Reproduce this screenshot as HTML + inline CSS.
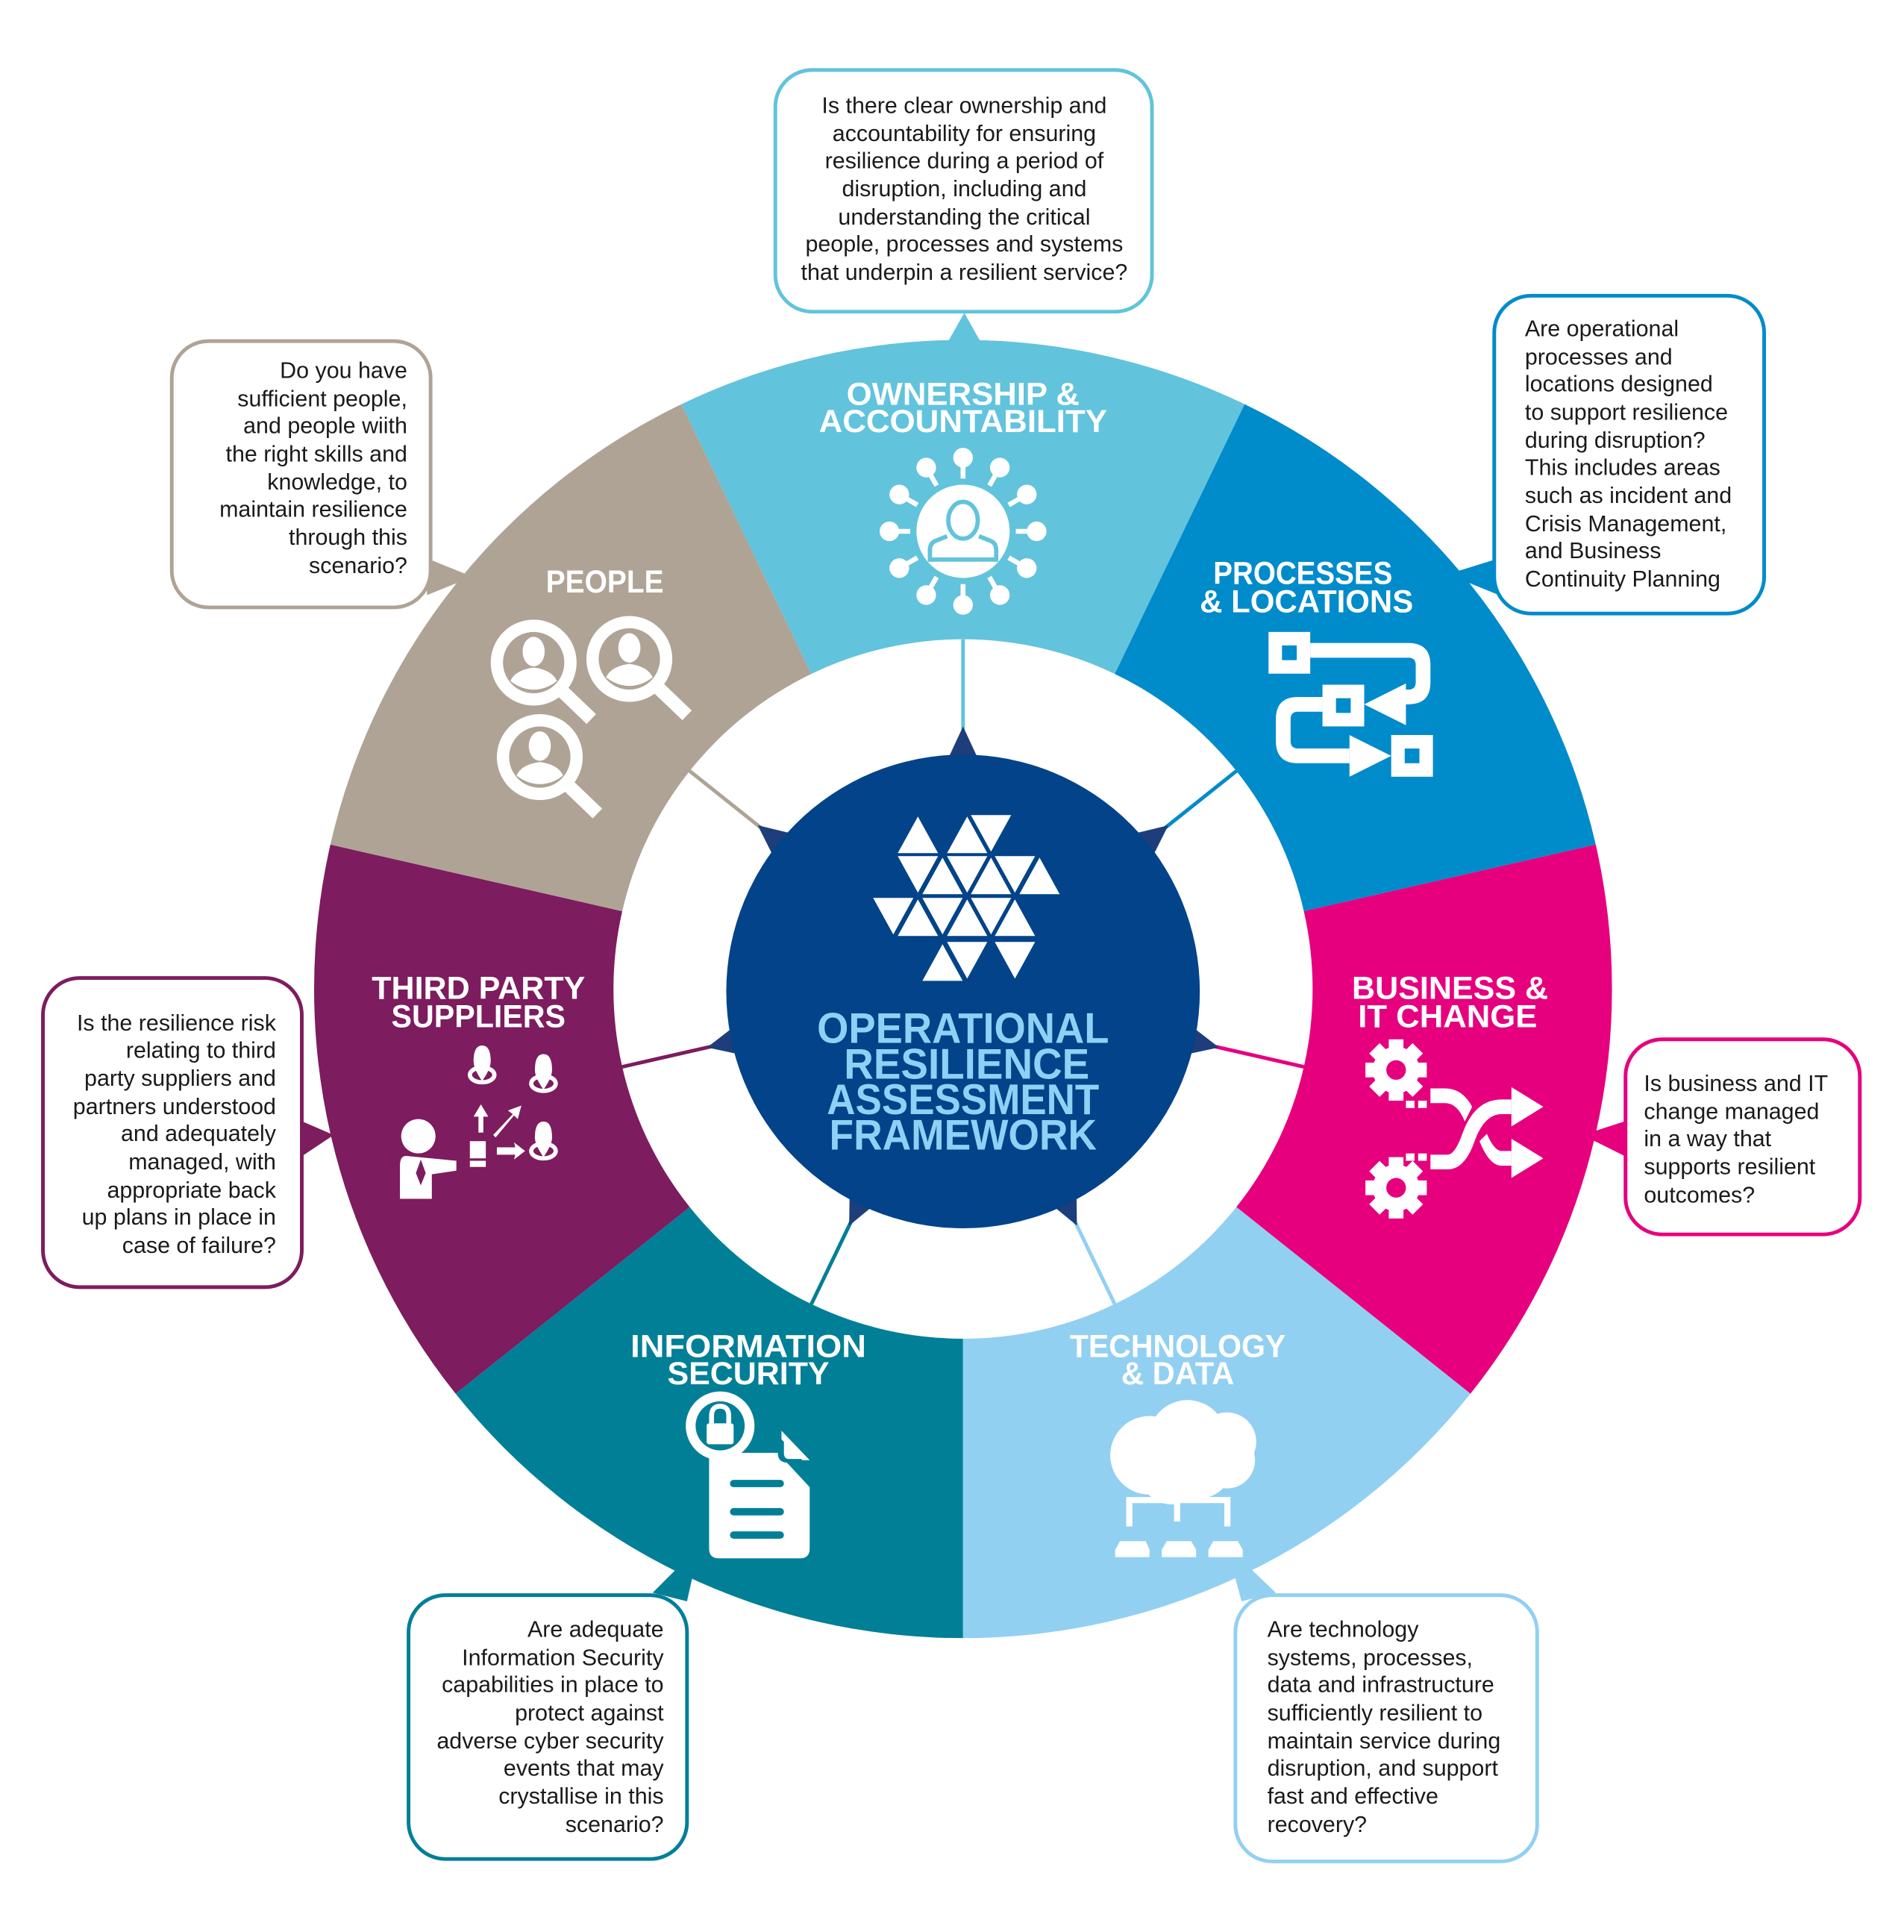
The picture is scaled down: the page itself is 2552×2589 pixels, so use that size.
<!DOCTYPE html>
<html><head><meta charset="utf-8"><style>
html,body{margin:0;padding:0;background:#fff;}
svg{display:block;}
text{font-family:"Liberation Sans",sans-serif;}
.q{font-size:18.5px;fill:#1a1a1a;}
.lab{font-size:26px;font-weight:bold;fill:#fff;}
.ctr{font-size:35px;font-weight:bold;fill:#8fd0f5;}
</style></head><body>
<svg width="2552" height="2589" viewBox="0 0 1552 1574.5" preserveAspectRatio="none" xmlns="http://www.w3.org/2000/svg">
<rect width="1552" height="1575" fill="#fff"/>

<!-- pointers (segment colored) -->
<polygon points="773,278 799,278 786,255" fill="#62c3dc"/>
<polygon points="1180,468 1222,455 1222,485" fill="#008bcb"/>
<polygon points="1290,925 1330,912 1330,945" fill="#e6007e"/>
<polygon points="1000,1260 1040,1298 1012,1305" fill="#92d0f2"/>
<polygon points="570,1260 532,1298 560,1305" fill="#007f97"/>
<polygon points="272,925 242,912 242,945" fill="#7d1c5e"/>
<polygon points="385,470 348,455 348,485" fill="#afa396"/>

<!-- segments -->
<path d="M785,1335 A529,529 0 0 1 371.4,1135.8 L562.2,983.7 A285,285 0 0 0 785,1091 Z" fill="#007f97"/>
<path d="M371.4,1135.8 A529,529 0 0 1 269.3,688.3 L507.2,742.6 A285,285 0 0 0 562.2,983.7 Z" fill="#7d1c5e"/>
<path d="M269.3,688.3 A529,529 0 0 1 555.5,329.4 L661.3,549.2 A285,285 0 0 0 507.2,742.6 Z" fill="#afa396"/>
<path d="M555.5,329.4 A529,529 0 0 1 1014.5,329.4 L908.7,549.2 A285,285 0 0 0 661.3,549.2 Z" fill="#62c3dc"/>
<path d="M1014.5,329.4 A529,529 0 0 1 1300.7,688.3 L1062.8,742.6 A285,285 0 0 0 908.7,549.2 Z" fill="#008bcb"/>
<path d="M1300.7,688.3 A529,529 0 0 1 1198.6,1135.8 L1007.8,983.7 A285,285 0 0 0 1062.8,742.6 Z" fill="#e6007e"/>
<path d="M1198.6,1135.8 A529,529 0 0 1 785,1335 L785,1091 A285,285 0 0 0 1007.8,983.7 Z" fill="#92d0f2"/>

<!-- connectors -->
<g stroke-width="3">
<g transform="rotate(0 785 806)"><line x1="785" y1="521" x2="785" y2="600" stroke="#62c3dc"/><polygon points="772,620 798,620 785,592" fill="#1d3e7a"/></g>
<g transform="rotate(51.43 785 806)"><line x1="785" y1="521" x2="785" y2="600" stroke="#008bcb"/><polygon points="772,620 798,620 785,592" fill="#1d3e7a"/></g>
<g transform="rotate(102.86 785 806)"><line x1="785" y1="521" x2="785" y2="600" stroke="#e6007e"/><polygon points="772,620 798,620 785,592" fill="#1d3e7a"/></g>
<g transform="rotate(154.29 785 806)"><line x1="785" y1="521" x2="785" y2="600" stroke="#92d0f2"/><polygon points="772,620 798,620 785,592" fill="#1d3e7a"/></g>
<g transform="rotate(205.71 785 806)"><line x1="785" y1="521" x2="785" y2="600" stroke="#007f97"/><polygon points="772,620 798,620 785,592" fill="#1d3e7a"/></g>
<g transform="rotate(257.14 785 806)"><line x1="785" y1="521" x2="785" y2="600" stroke="#7d1c5e"/><polygon points="772,620 798,620 785,592" fill="#1d3e7a"/></g>
<g transform="rotate(308.57 785 806)"><line x1="785" y1="521" x2="785" y2="600" stroke="#afa396"/><polygon points="772,620 798,620 785,592" fill="#1d3e7a"/></g>
</g>

<!-- center -->
<circle cx="785" cy="808" r="193" fill="#024389"/>
<g transform="scale(0.6083)" fill="#fff">
<!-- row1 y1092-1143 -->
<polygon points="1203,1143 1257,1143 1230,1094"/>
<polygon points="1269,1143 1323,1143 1296,1094"/>
<polygon points="1301,1092 1355,1092 1328,1141"/>
<!-- row2 -->
<polygon points="1203,1147 1257,1147 1230,1196"/>
<polygon points="1236,1198 1290,1198 1263,1149"/>
<polygon points="1269,1147 1323,1147 1296,1196"/>
<polygon points="1301,1198 1355,1198 1328,1149"/>
<polygon points="1333,1147 1387,1147 1360,1196"/>
<polygon points="1366,1198 1420,1198 1393,1149"/>
<!-- row3 -->
<polygon points="1170,1203 1224,1203 1197,1252"/>
<polygon points="1203,1254 1257,1254 1230,1205"/>
<polygon points="1236,1203 1290,1203 1263,1252"/>
<polygon points="1269,1254 1323,1254 1296,1205"/>
<polygon points="1301,1203 1355,1203 1328,1252"/>
<polygon points="1333,1254 1387,1254 1360,1205"/>
<!-- row4 -->
<polygon points="1236,1314 1290,1314 1263,1265"/>
<polygon points="1269,1262 1323,1262 1296,1311"/>
<polygon points="1333,1262 1387,1262 1360,1311"/>
</g>
<text class="ctr" x="785" y="850" text-anchor="middle" textLength="238" lengthAdjust="spacingAndGlyphs">OPERATIONAL</text>
<text class="ctr" x="788" y="879" text-anchor="middle" textLength="200" lengthAdjust="spacingAndGlyphs">RESILIENCE</text>
<text class="ctr" x="785" y="908" text-anchor="middle" textLength="222" lengthAdjust="spacingAndGlyphs">ASSESSMENT</text>
<text class="ctr" x="785" y="937" text-anchor="middle" textLength="218" lengthAdjust="spacingAndGlyphs">FRAMEWORK</text>

<!-- segment labels -->
<text class="lab" x="785" y="330" text-anchor="middle" textLength="190" lengthAdjust="spacingAndGlyphs">OWNERSHIP &amp;</text>
<text class="lab" x="785" y="352" text-anchor="middle" textLength="235" lengthAdjust="spacingAndGlyphs">ACCOUNTABILITY</text>
<text class="lab" x="1062" y="476" text-anchor="middle" textLength="146" lengthAdjust="spacingAndGlyphs">PROCESSES</text>
<text class="lab" x="1065" y="499" text-anchor="middle" textLength="174" lengthAdjust="spacingAndGlyphs">&amp; LOCATIONS</text>
<text class="lab" x="1182" y="814" text-anchor="middle" textLength="160" lengthAdjust="spacingAndGlyphs">BUSINESS &amp;</text>
<text class="lab" x="1180" y="837" text-anchor="middle" textLength="146" lengthAdjust="spacingAndGlyphs">IT CHANGE</text>
<text class="lab" x="960" y="1106" text-anchor="middle" textLength="176" lengthAdjust="spacingAndGlyphs">TECHNOLOGY</text>
<text class="lab" x="960" y="1128" text-anchor="middle" textLength="92" lengthAdjust="spacingAndGlyphs">&amp; DATA</text>
<text class="lab" x="610" y="1106" text-anchor="middle" textLength="192" lengthAdjust="spacingAndGlyphs">INFORMATION</text>
<text class="lab" x="610" y="1128" text-anchor="middle" textLength="132" lengthAdjust="spacingAndGlyphs">SECURITY</text>
<text class="lab" x="390" y="814" text-anchor="middle" textLength="174" lengthAdjust="spacingAndGlyphs">THIRD PARTY</text>
<text class="lab" x="390" y="837" text-anchor="middle" textLength="142" lengthAdjust="spacingAndGlyphs">SUPPLIERS</text>
<text class="lab" x="493" y="483" text-anchor="middle" textLength="96" lengthAdjust="spacingAndGlyphs">PEOPLE</text>

<!-- ownership icon -->
<g fill="#fff" stroke="#fff">
<circle cx="785" cy="433" r="38" stroke="none"/>
<g stroke-width="4">
<g id="sp"><line x1="785" y1="390" x2="785" y2="380"/><circle cx="785" cy="373" r="8" stroke="none"/></g>
<use href="#sp" transform="rotate(30 785 433)"/><use href="#sp" transform="rotate(60 785 433)"/><use href="#sp" transform="rotate(90 785 433)"/>
<use href="#sp" transform="rotate(120 785 433)"/><use href="#sp" transform="rotate(150 785 433)"/><use href="#sp" transform="rotate(180 785 433)"/>
<use href="#sp" transform="rotate(210 785 433)"/><use href="#sp" transform="rotate(240 785 433)"/><use href="#sp" transform="rotate(270 785 433)"/>
<use href="#sp" transform="rotate(300 785 433)"/><use href="#sp" transform="rotate(330 785 433)"/>
</g>
</g>
<g fill="none" stroke="#62c3dc" stroke-width="3.5">
<ellipse cx="785" cy="424" rx="12" ry="15"/>
<path d="M772,437 L762,441 Q758,443 758,448 L758,456 L812,456 L812,448 Q812,443 808,441 L798,437"/>
</g>

<!-- processes icon -->
<g fill="#fff">
<rect x="1034" y="515" width="34" height="34"/><rect x="1045" y="526" width="12" height="12" fill="#008bcb"/>
<path d="M1068,524 L1148,524 Q1166,524 1166,542 L1166,556 Q1166,574 1148,574 L1138,574 L1138,562 L1148,562 Q1154,562 1154,556 L1154,542 Q1154,536 1148,536 L1068,536 Z"/>
<polygon points="1112,574 1146,557 1146,591"/>
<rect x="1078" y="558" width="34" height="34"/><rect x="1089" y="569" width="12" height="12" fill="#008bcb"/>
<path d="M1078,568 L1058,568 Q1040,568 1040,586 L1040,604 Q1040,622 1058,622 L1100,622 L1100,610 L1058,610 Q1052,610 1052,604 L1052,586 Q1052,580 1058,580 L1078,580 Z"/>
<polygon points="1134,616 1100,599 1100,633"/>
<rect x="1134" y="599" width="34" height="34"/><rect x="1145" y="610" width="12" height="12" fill="#008bcb"/>
</g>

<!-- business icon -->
<g fill="#fff">
<g id="gear">
<circle cx="1138" cy="872" r="19"/>
<rect x="1132" y="847" width="12" height="50"/><rect x="1113" y="866" width="50" height="12"/>
<rect x="1132" y="847" width="12" height="50" transform="rotate(45 1138 872)"/><rect x="1132" y="847" width="12" height="50" transform="rotate(-45 1138 872)"/>
<circle cx="1138" cy="872" r="8" fill="#e6007e"/>
</g>
<use href="#gear" transform="translate(0 96)"/>
<rect x="1146" y="897" width="7" height="6"/><rect x="1156" y="897" width="7" height="6"/>
<rect x="1146" y="940" width="7" height="6"/><rect x="1156" y="940" width="7" height="6"/>
<path d="M1166,887 L1178,887 Q1192,887 1200,902 L1194,914 Q1188,899 1178,899 L1166,899 Z"/>
<path d="M1166,953 L1180,953 Q1194,953 1202,930 Q1210,908 1224,908 L1232,908 L1232,896 L1224,896 Q1202,896 1192,924 Q1186,941 1180,941 L1166,941 Z"/>
<polygon points="1232,886 1258,902 1232,918"/>
<path d="M1206,930 Q1214,950 1224,950 L1232,950 L1232,938 L1224,938 Q1218,938 1212,924 Z"/>
<polygon points="1232,928 1258,944 1232,960"/>
</g>

<!-- technology icon -->
<g fill="#fff">
<circle cx="937" cy="1186" r="32"/><circle cx="968" cy="1173" r="32"/><circle cx="1000" cy="1175" r="24"/><circle cx="1000" cy="1190" r="23"/>
<circle cx="955" cy="1200" r="26"/><circle cx="978" cy="1195" r="26"/>
<rect x="957" y="1210" width="5" height="30"/>
<path d="M918,1220 L1003,1220 L1003,1244 L998,1244 L998,1225 L923,1225 L923,1244 L918,1244 Z"/>
<path d="M909,1263 L913,1256 L934,1256 L937,1263 Z M909,1263 L937,1263 L937,1269 L909,1269 Z"/>
<path d="M947,1263 L951,1256 L971,1256 L975,1263 Z M947,1263 L975,1263 L975,1269 L947,1269 Z"/>
<path d="M985,1263 L989,1256 L1009,1256 L1013,1263 Z M985,1263 L1013,1263 L1013,1269 L985,1269 Z"/>
</g>

<!-- infosec icon -->
<g fill="#fff">
<path d="M578,1184 L634,1184 L660,1212 L660,1262 Q660,1270 652,1270 L586,1270 Q578,1270 578,1262 Z"/>
<circle cx="587" cy="1162" r="28"/>
<circle cx="587" cy="1162" r="20" fill="#007f97"/>
<rect x="576" y="1160" width="22" height="17" rx="2"/>
<path d="M580,1160 L580,1154 Q580,1146 587,1146 Q594,1146 594,1154 L594,1160" fill="none" stroke="#fff" stroke-width="4"/>
<path d="M637,1166 L660,1190 L642,1190 Q637,1190 637,1184 Z" fill="#fff"/>
<path d="M634,1184 L634,1170 L656,1192 L642,1192 Q634,1192 634,1184" fill="#007f97"/>
<path d="M639,1172 L655,1189 L643,1189 Q639,1189 639,1184 Z" fill="#fff"/>
<g stroke="#007f97" stroke-width="6" stroke-linecap="round"><line x1="598" y1="1209" x2="636" y2="1209"/><line x1="598" y1="1232" x2="636" y2="1232"/><line x1="598" y1="1251" x2="636" y2="1251"/></g>
</g>

<!-- third party icon -->
<g fill="#fff">
<g id="pin"><path d="M643,0 Q643,-13 650,-13 Q657,-13 657,0 Q657,6 650,16 Q643,6 643,0 Z" transform="translate(-257 865)"/>
<ellipse cx="393" cy="876" rx="10" ry="6" fill="none" stroke="#fff" stroke-width="3.5"/></g>
<use href="#pin" transform="translate(50 7)"/>
<use href="#pin" transform="translate(50 62)"/>
<circle cx="341" cy="926" r="14"/>
<path d="M331,942 L372,946 L372,954 L352,957 L352,977 L326,977 L326,950 Q326,942 331,942 Z"/>
<polygon points="343,945 347,956 343,966 339,956" fill="#7d1c5e"/>
<rect x="383" y="930" width="13" height="14"/><rect x="383" y="946" width="13" height="5"/>
<path d="M390,923 L390,910 L386,910 L392,900 L398,910 L394,910 L394,923 Z"/>
<path d="M402,925 L418,908 L414,905 L425,901 L422,912 L419,909 L404,927 Z"/>
<path d="M405,935 L420,935 L419,931 L428,938 L419,945 L420,941 L405,941 Z"/>
</g>

<!-- people icon -->
<g>
<g id="mag">
<circle cx="435" cy="540" r="30" fill="none" stroke="#fff" stroke-width="10"/>
<line x1="458" y1="563" x2="482" y2="586" stroke="#fff" stroke-width="11"/>
<ellipse cx="435" cy="531" rx="9" ry="12" fill="#fff"/>
<path d="M416,555 Q420,546 435,544 Q450,546 454,555 Q445,562 435,562 Q425,562 416,555 Z" fill="#fff"/>
</g>
<use href="#mag" transform="translate(78 -3)"/>
<use href="#mag" transform="translate(5 77)"/>
</g>

<!-- callout boxes -->
<g fill="#fff" stroke-width="3">
<rect x="632" y="57" width="307" height="197" rx="30" stroke="#62c3dc"/>
<rect x="1218" y="241" width="220" height="259" rx="30" stroke="#008bcb"/>
<rect x="1325" y="847" width="191" height="159" rx="30" stroke="#e6007e"/>
<rect x="1007" y="1300" width="246" height="217" rx="30" stroke="#92d0f2"/>
<rect x="333" y="1300" width="227" height="215" rx="30" stroke="#007f97"/>
<rect x="35" y="797" width="211" height="252" rx="30" stroke="#7d1c5e"/>
<rect x="140" y="278" width="211" height="217" rx="30" stroke="#afa396"/>
</g>

<g class="q">
<g text-anchor="middle">
<text x="786" y="92">Is there clear ownership and</text>
<text x="786" y="115">accountability for ensuring</text>
<text x="786" y="137">resilience during a period of</text>
<text x="786" y="160">disruption, including and</text>
<text x="786" y="183">understanding the critical</text>
<text x="786" y="205">people, processes and systems</text>
<text x="786" y="228">that underpin a resilient service?</text>
</g>
<g>
<text x="1243" y="274">Are operational</text>
<text x="1243" y="297">processes and</text>
<text x="1243" y="319">locations designed</text>
<text x="1243" y="342">to support resilience</text>
<text x="1243" y="365">during disruption?</text>
<text x="1243" y="387">This includes areas</text>
<text x="1243" y="410">such as incident and</text>
<text x="1243" y="433">Crisis Management,</text>
<text x="1243" y="455">and Business</text>
<text x="1243" y="478">Continuity Planning</text>
</g>
<g>
<text x="1340" y="889">Is business and IT</text>
<text x="1340" y="912">change managed</text>
<text x="1340" y="934">in a way that</text>
<text x="1340" y="957">supports resilient</text>
<text x="1340" y="980">outcomes?</text>
</g>
<g>
<text x="1033" y="1334">Are technology</text>
<text x="1033" y="1357">systems, processes,</text>
<text x="1033" y="1379">data and infrastructure</text>
<text x="1033" y="1402">sufficiently resilient to</text>
<text x="1033" y="1425">maintain service during</text>
<text x="1033" y="1447">disruption, and support</text>
<text x="1033" y="1470">fast and effective</text>
<text x="1033" y="1493">recovery?</text>
</g>
<g text-anchor="end">
<text x="541" y="1334">Are adequate</text>
<text x="541" y="1357">Information Security</text>
<text x="541" y="1379">capabilities in place to</text>
<text x="541" y="1402">protect against</text>
<text x="541" y="1425">adverse cyber security</text>
<text x="541" y="1447">events that may</text>
<text x="541" y="1470">crystallise in this</text>
<text x="541" y="1493">scenario?</text>
</g>
<g text-anchor="end">
<text x="225" y="840">Is the resilience risk</text>
<text x="225" y="862">relating to third</text>
<text x="225" y="885">party suppliers and</text>
<text x="225" y="908">partners understood</text>
<text x="225" y="930">and adequately</text>
<text x="225" y="953">managed, with</text>
<text x="225" y="976">appropriate back</text>
<text x="225" y="998">up plans in place in</text>
<text x="225" y="1021">case of failure?</text>
</g>
<g text-anchor="end">
<text x="332" y="308">Do you have</text>
<text x="332" y="331">sufficient people,</text>
<text x="332" y="353">and people wiith</text>
<text x="332" y="376">the right skills and</text>
<text x="332" y="399">knowledge, to</text>
<text x="332" y="421">maintain resilience</text>
<text x="332" y="444">through this</text>
<text x="332" y="467">scenario?</text>
</g>
</g>
</svg>
</body></html>
